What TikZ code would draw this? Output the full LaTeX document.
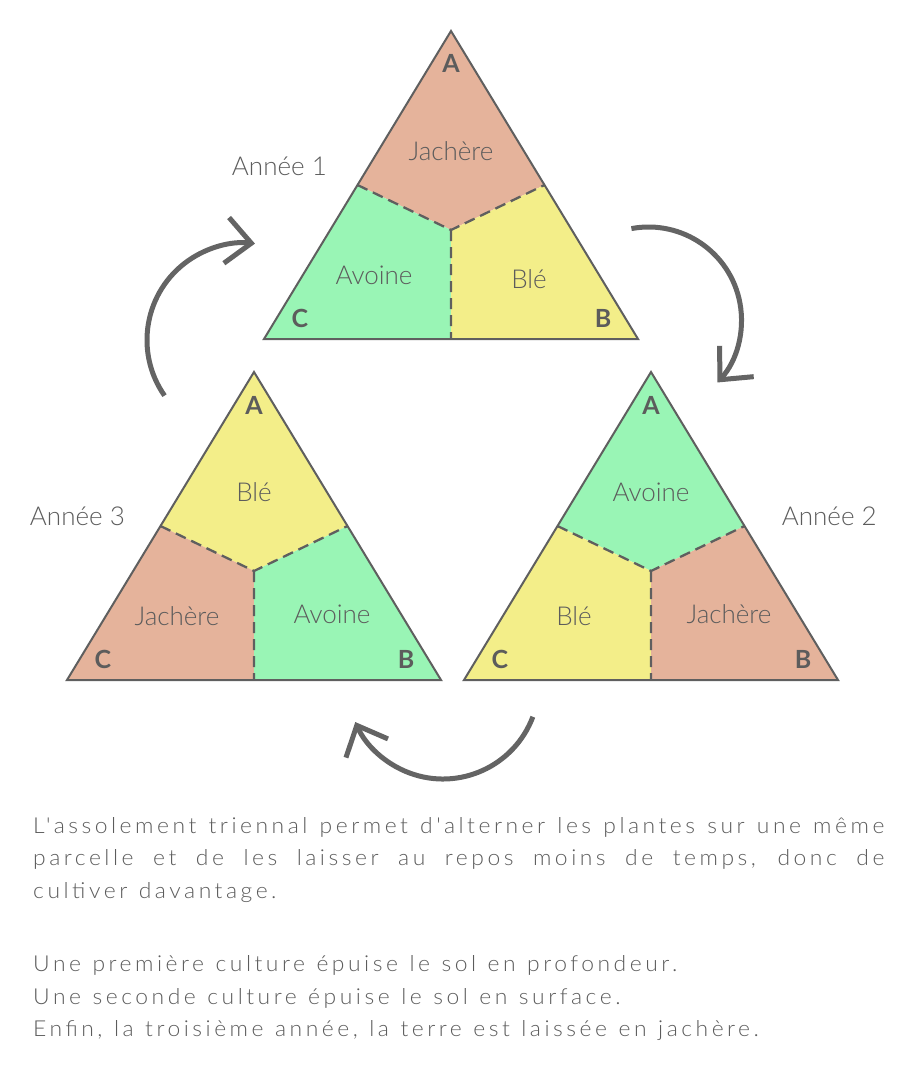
\documentclass[tikz,border=0pt]{standalone}
\usepackage{fontspec}
\setmainfont{Lato}[Ligatures=TeXOff]
\newfontfamily\leger{Lato Light}[Ligatures=TeXOff]
\newfontfamily\espace{Lato Light}[Ligatures=TeXOff, LetterSpace=16, FakeStretch=1.04]
\newcommand\mots{\spaceskip=11.5pt plus 8pt minus 3pt\relax}
\usetikzlibrary{arrows.meta}
\definecolor{jachere}{HTML}{E5B39B}
\definecolor{avoine}{HTML}{99F5B5}
\definecolor{ble}{HTML}{F3EE89}
\definecolor{trait}{HTML}{5F5F5F}
\definecolor{encre}{HTML}{5C5C5C}
\definecolor{fleche}{HTML}{646464}

\begin{document}
\begin{tikzpicture}[
  x=1pt, y=1pt,
  bord/.style={draw=trait, line width=2pt},
  limite/.style={draw=trait, line width=2.3pt, dash pattern=on 11pt off 6pt},
  culture/.style={anchor=base, inner sep=0pt, text=encre, font=\leger\fontsize{26}{30}\selectfont},
  sommet/.style={anchor=base, inner sep=0pt, text=encre, font=\fontsize{25}{30}\selectfont\bfseries},
  annee/.style={inner sep=0pt, text=encre, font=\leger\fontsize{26}{30}\selectfont},
  rotation/.style={draw=fleche, line width=5pt, -{Straight Barb[length=25pt, width=46pt]}},
  paragraphe/.style={anchor=base west, inner sep=0pt, text=encre, text width=851pt, align=left,
    font=\espace\fontsize{22}{32.5}\selectfont}
]
  \useasboundingbox (0,0) rectangle (901,-1070);

  % les trois parcelles
  \foreach \n/\px/\py/\ch/\th/\cg/\tg/\cd/\td/\yd in {%
      p1/451/31/jachere/Jachère/avoine/Avoine/ble/Blé/257,
      p2/651/372/avoine/Avoine/ble/Blé/jachere/Jachère/251,
      p3/254/372/ble/Blé/jachere/Jachère/avoine/Avoine/251}{
    \begin{scope}[shift={(\px,-\py)}]
      \coordinate (\n-A) at (0,0);
      \coordinate (\n-B) at (187,-308);
      \coordinate (\n-C) at (-187,-308);
      \coordinate (\n-mg) at (-93.5,-154);
      \coordinate (\n-md) at (93.5,-154);
      \coordinate (\n-mb) at (0,-308);
      \coordinate (\n-o) at (0,-199);
      \fill[\ch] (\n-A) -- (\n-md) -- (\n-o) -- (\n-mg) -- cycle;
      \fill[\cg] (\n-mg) -- (\n-o) -- (\n-mb) -- (\n-C) -- cycle;
      \fill[\cd] (\n-md) -- (\n-B) -- (\n-mb) -- (\n-o) -- cycle;
      \draw[limite] (\n-mg) -- (\n-o) -- (\n-md) (\n-o) -- (\n-mb);
      \draw[bord] (\n-A) -- (\n-B) -- (\n-C) -- cycle;
      \node[culture] (\n-haut) at (0,-129) {\th};
      \node[culture] (\n-gauche) at (-77,-253) {\tg};
      \node[culture] (\n-droite) at (78,-\yd) {\td};
      \node[sommet] (\n-sA) at (0,-42) {A};
      \node[sommet] (\n-sB) at (152,-296) {B};
      \node[sommet] (\n-sC) at (-151,-296) {C};
    \end{scope}
  }

  \node[annee, anchor=base east] (an1) at (327,-175) {Année 1};
  \node[annee, anchor=base west] (an2) at (781.7,-525.7) {Année 2};
  \node[annee, anchor=base east] (an3) at (125,-525.7) {Année 3};

  % fleches de rotation
  \coordinate (rot1) at (648.5,-320);
  \coordinate (rot2) at (443,-683);
  \coordinate (rot3) at (244,-340);
  \draw[rotation] ([shift={(100.6:93pt)}]rot1) arc[start angle=100.6, end angle=-42.2, radius=93pt];
  \draw[rotation] ([shift={(-20.6:96pt)}]rot2) arc[start angle=-20.6, end angle=-156, radius=96pt];
  \draw[rotation] ([shift={(215:97pt)}]rot3) arc[start angle=215, end angle=83.5, radius=97pt];

  \node[paragraphe] (texte1) at (33,-833.3) {\mots
    \makebox[851pt][s]{L'assolement triennal permet d'alterner les plantes sur une même}\\
    \makebox[851pt][s]{parcelle et de les laisser au repos moins de temps, donc de}\\
    cultiver davantage.};
  \node[paragraphe] (texte2) at (33,-971.7) {\mots
    Une première culture épuise le sol en profondeur.\\
    Une seconde culture épuise le sol en surface.\\
    Enfin, la troisième année, la terre est laissée en jachère.};
\end{tikzpicture}
\end{document}
